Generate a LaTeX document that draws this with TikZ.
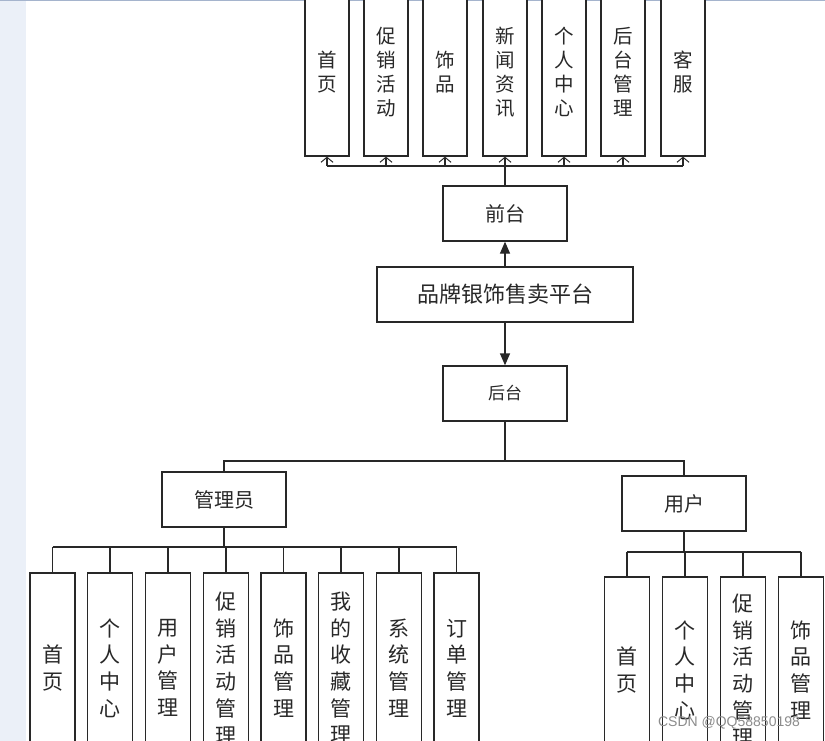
\documentclass[tikz,border=0pt]{standalone}
\usepackage{fontspec}
\setmainfont{Noto Sans CJK SC}
\newfontfamily\wmfont{Liberation Sans}
\usetikzlibrary{arrows.meta}
\definecolor{strip}{RGB}{235,240,248}
\definecolor{topline}{RGB}{165,180,205}
\definecolor{ink}{RGB}{40,40,40}
\tikzset{
  box/.style={draw=ink, line width=1.3pt, fill=white, inner sep=0pt, text=ink},
  hbox/.style={box, minimum width=124pt, minimum height=55pt, font=\fontsize{20}{24}\selectfont},
  topbox/.style={box, minimum width=44pt, minimum height=168pt, align=center, font=\fontsize{19.5}{24}\selectfont},
  lowbox/.style={box, minimum width=45pt, minimum height=190pt, align=center, font=\fontsize{21}{26.7}\selectfont},
  conn/.style={draw=ink, line width=1.3pt},
  openarr/.style={conn, -{Straight Barb[length=5pt,width=12pt,line width=1pt]}},
  fillarr/.style={conn, -{Triangle[length=12pt,width=10pt]}}
}
\begin{document}
\begin{tikzpicture}[x=1pt,y=-1pt]
\useasboundingbox (0,0) rectangle (825,741);
\clip (0,0) rectangle (825,741);
\fill[strip] (0,0) rectangle (26,741);
\fill[topline] (0,0) rectangle (825,1.5);

% top row
\node[topbox] (t1) at (327,72) {首\\页};
\node[topbox] (t2) at (386,72) {促\\销\\活\\动};
\node[topbox] (t3) at (445,72) {饰\\品};
\node[topbox] (t4) at (505,72) {新\\闻\\资\\讯};
\node[topbox] (t5) at (564,72) {个\\人\\中\\心};
\node[topbox] (t6) at (623,72) {后\\台\\管\\理};
\node[topbox] (t7) at (683,72) {客\\服};

\node[hbox] (qt) at (505,213.5) {前台};
\node[box, minimum width=256pt, minimum height=55pt, font=\fontsize{22}{26}\selectfont] (pf) at (505,294.5) {品牌银饰售卖平台};
\node[hbox, font=\fontsize{17}{20}\selectfont] (ht) at (505,393.5) {后台};
\node[hbox] (adm) at (224,499.5) {管理员};
\node[hbox] (usr) at (684,503.5) {用户};

% front bus
\coordinate (tb) at (505,166);
\draw[conn] (qt.north) -- (tb);
\draw[conn] (t1.south |- tb) -- (t7.south |- tb);
\foreach \n in {t1,t2,t3,t4,t5,t6,t7}{
  \draw[openarr] (\n.south |- tb) -- (\n.south);
}
\draw[fillarr] (pf.north) -- (qt.south);
\draw[fillarr] (pf.south) -- (ht.north);

% back split
\coordinate (bb) at (505,461);
\draw[conn] (ht.south) -- (bb);
\draw[conn] (adm.north) |- (bb) -| (usr.north);

% admin children
\node[lowbox] (a1) at (52.5,668) {首\\页};
\node[lowbox] (a2) at (110,668) {个\\人\\中\\心};
\node[lowbox] (a3) at (168,668) {用\\户\\管\\理};
\node[lowbox] (a4) at (226,668) {促\\销\\活\\动\\管\\理};
\node[lowbox] (a5) at (283.5,668) {饰\\品\\管\\理};
\node[lowbox] (a6) at (341,668) {我\\的\\收\\藏\\管\\理};
\node[lowbox] (a7) at (399,668) {系\\统\\管\\理};
\node[lowbox] (a8) at (456.5,668) {订\\单\\管\\理};
\coordinate (ab) at (224,547);
\draw[conn] (adm.south) -- (ab);
\draw[conn] (a1.north |- ab) -- (a8.north |- ab);
\foreach \n in {a1,a2,a3,a4,a5,a6,a7,a8}{
  \draw[conn] (\n.north |- ab) -- (\n.north);
}

% user children
\node[lowbox, minimum height=186pt] (u1) at (627,670) {首\\页};
\node[lowbox, minimum height=186pt] (u2) at (685,670) {个\\人\\中\\心};
\node[lowbox, minimum height=186pt] (u3) at (743,670) {促\\销\\活\\动\\管\\理};
\node[lowbox, minimum height=186pt] (u4) at (801,670) {饰\\品\\管\\理};
\coordinate (ub) at (684,552);
\draw[conn] (usr.south) -- (ub);
\draw[conn] (u1.north |- ub) -- (u4.north |- ub);
\foreach \n in {u1,u2,u3,u4}{
  \draw[conn] (\n.north |- ub) -- (\n.north);
}

\node[font=\wmfont\fontsize{14}{16}\selectfont, text=black!45, anchor=center] (wm) at (729,723) {CSDN @QQ58850198};
\end{tikzpicture}
\end{document}
